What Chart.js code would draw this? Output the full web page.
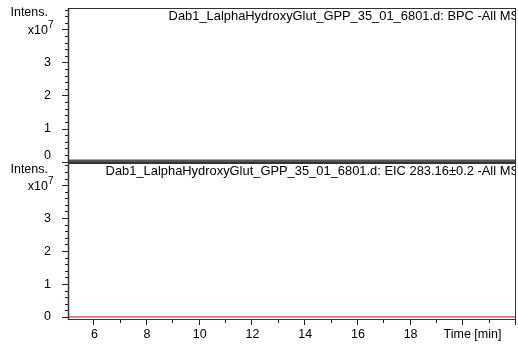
<!DOCTYPE html>
<html lang="en">
<head>
<meta charset="UTF-8">
<title>BPC / EIC</title>
<style>
  body { margin: 0; background: #fff; }
  #wrap { position: relative; width: 518px; height: 346px; }
  #wrap canvas { position: absolute; left: 0; top: 0; }
</style>
</head>
<body>
<div id="wrap">
  <canvas id="bpcChart" width="518" height="346"></canvas>
  <canvas id="eicChart" width="518" height="346"></canvas>
</div>
<script src="https://cdn.jsdelivr.net/npm/chart.js"></script>
<script>
// retention time window (min) and axis ticks
const timeRange = [5, 22];
const timeLabelTicks = [6, 8, 10, 12, 14, 16, 18];
const intensityTicks = [0, 1, 2, 3];
const intensityExponent = '7';

// base peak chromatogram, intensity in units of 10^7
const bpcTime = [5, 22];
const bpcIntensity = [0, 0];

// extracted ion chromatogram m/z 283.16
const eicTime = [5, 22];
const eicIntensity = [0, 0];

const fileName = 'Dab1_LalphaHydroxyGlut_GPP_35_01_6801.d';
const bpcTitle = fileName + ': BPC -All MS';
const eicTitle = fileName + ': EIC 283.16±0.2 -All MS';

const FONT = '12.5px "Liberation Sans", Arial, sans-serif';
const TITLE_FONT = '12.9px "Liberation Sans", Arial, sans-serif';
const SMALL = '10px "Liberation Sans", Arial, sans-serif';

const toPoints = (xs, ys) => xs.map((t, i) => ({ x: t, y: ys[i] }));

// frame, ticks, labels and the trace title for one panel
const panelDecor = {
  id: 'panelDecor',
  afterDatasetsDraw(chart, args, opts) {
    const { ctx, chartArea: a } = chart;
    const xs = chart.scales.x, ys = chart.scales.y;
    ctx.save();

    // trace title, clipped by the frame
    ctx.save();
    ctx.beginPath();
    ctx.rect(a.left, a.top, a.right - a.left, a.bottom - a.top);
    ctx.clip();
    ctx.font = TITLE_FONT;
    ctx.fillStyle = '#000';
    ctx.textAlign = 'right';
    ctx.textBaseline = 'middle';
    ctx.fillText(opts.title, a.right + 3, a.top + 8);
    ctx.restore();

    // frame
    ctx.strokeStyle = '#333';
    ctx.lineWidth = 1;
    ctx.strokeRect(a.left + 0.5, a.top + 0.5, a.right - a.left - 1, a.bottom - a.top - 1);
    ctx.lineWidth = 1.5;
    ctx.beginPath();
    ctx.moveTo(a.left + 0.5, a.top);
    ctx.lineTo(a.left + 0.5, a.bottom);
    ctx.stroke();

    // intensity ticks every 0.2
    ctx.lineWidth = 1;
    ctx.strokeStyle = '#222';
    for (let i = 0; i / 5 <= ys.max; i++) {
      const py = Math.round(ys.getPixelForValue(i / 5)) + 0.5;
      const len = i % 5 === 0 ? 6 : 3;
      ctx.beginPath();
      ctx.moveTo(a.left - len, py);
      ctx.lineTo(a.left, py);
      ctx.stroke();
    }

    ctx.fillStyle = '#000';
    ctx.font = FONT;
    ctx.textAlign = 'right';
    ctx.textBaseline = 'middle';
    intensityTicks.forEach(v => {
      const dy = v === 0 ? opts.zeroDy : 0;
      ctx.fillText(String(v), 51, ys.getPixelForValue(v) + dy);
    });

    // axis caption at the 4 position
    const p4 = ys.getPixelForValue(4);
    ctx.fillText('x10', 48, p4 + 1);
    ctx.font = SMALL;
    ctx.textAlign = 'left';
    ctx.fillText(intensityExponent, 48, p4 - 4);
    ctx.font = FONT;
    ctx.textAlign = 'right';
    ctx.fillText('Intens.', 48, a.top + opts.intensDy);

    // time axis on the lower panel only
    if (opts.timeAxis) {
      ctx.strokeStyle = '#222';
      for (let t = timeRange[0] + 1; t <= timeRange[1]; t++) {
        const px = Math.round(xs.getPixelForValue(t)) - 0.5;
        const len = t % 2 === 0 ? 5 : 3;
        ctx.beginPath();
        ctx.moveTo(px, a.bottom);
        ctx.lineTo(px, a.bottom + len);
        ctx.stroke();
      }
      ctx.textAlign = 'center';
      ctx.textBaseline = 'middle';
      timeLabelTicks.forEach(t => {
        ctx.fillText(String(t), xs.getPixelForValue(t), a.bottom + 15);
      });
      ctx.fillText('Time [min]', xs.getPixelForValue(20.35), a.bottom + 15);
    }
    ctx.restore();
  }
};

function panel(id, data, color, width, yMin, yMax, pad, decor) {
  return new Chart(document.getElementById(id), {
    type: 'line',
    data: {
      datasets: [{
        data: data,
        borderColor: color,
        borderWidth: width,
        pointRadius: 0,
        tension: 0
      }]
    },
    options: {
      responsive: false,
      animation: false,
      events: [],
      layout: { padding: pad },
      plugins: { legend: { display: false }, tooltip: { enabled: false }, panelDecor: decor },
      scales: {
        x: { type: 'linear', display: false, min: timeRange[0], max: timeRange[1] },
        y: { type: 'linear', display: false, min: yMin, max: yMax }
      }
    },
    plugins: [panelDecor]
  });
}

panel('bpcChart', toPoints(bpcTime, bpcIntensity), '#555555', 4, -0.045, 4.65,
  { left: 68, top: 8, right: 2, bottom: 183 },
  { title: bpcTitle, timeAxis: false, zeroDy: -6, intensDy: 5 });

panel('eicChart', toPoints(eicTime, eicIntensity), '#e85a5a', 1.5, -0.09, 4.67,
  { left: 68, top: 163, right: 2, bottom: 26 },
  { title: eicTitle, timeAxis: true, zeroDy: 0, intensDy: 7 });
</script>
</body>
</html>
